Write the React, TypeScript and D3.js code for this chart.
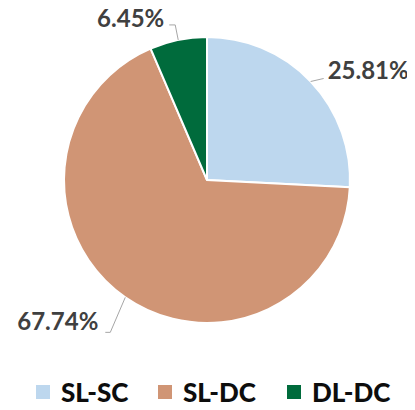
import * as d3 from "d3";

const categories = ["SL-SC", "SL-DC", "DL-DC"];
const values = [25.81, 67.74, 6.45];
const colors = ["#BDD7EE", "#D09575", "#006B3C"];

const W = 415, H = 410;
const CX = 207, CY = 180, R = 143;
const FONT = "Lato, 'Open Sans', sans-serif";

// leader offsets per slice: elbow + end points relative to the slice edge, then text offset
const leader = [
  { pts: [[13, -3], [13, -3]], anchor: "start", tx: 17, ty: -3 },
  { pts: [[-15, 35], [-20, 35]], anchor: "end", tx: -27, ty: 33 },
  { pts: [[-3, -15], [-9, -15]], anchor: "end", tx: -14, ty: -13 },
];

export default function App() {
  const pie = d3.pie<number>().sort(null).value(d => d);
  const arcs = pie(values);
  const arc = d3.arc<d3.PieArcDatum<number>>().innerRadius(0).outerRadius(R);

  const legendX = [36, 158, 287];

  return (
    <div style={{ margin: -8, width: W, height: H, background: "#fff" }}>
      <svg width={W} height={H} style={{ display: "block" }}>
        <g transform={`translate(${CX},${CY})`}>
          {arcs.map((a, i) => (
            <path key={i} d={arc(a) || ""} fill={colors[i]} stroke="#fff" strokeWidth={2} />
          ))}
          {arcs.map((a, i) => {
            const mid = (a.startAngle + a.endAngle) / 2;
            const p = [Math.sin(mid) * R, -Math.cos(mid) * R];
            const L = leader[i];
            const e1 = [p[0] + L.pts[0][0], p[1] + L.pts[0][1]];
            const e2 = [p[0] + L.pts[1][0], p[1] + L.pts[1][1]];
            return (
              <g key={i}>
                <polyline points={`${p[0]},${p[1]} ${e1[0]},${e1[1]} ${e2[0]},${e2[1]}`}
                  fill="none" stroke="#A6A6A6" strokeWidth={1} />
                <text x={p[0] + L.tx} y={p[1] + L.ty} textAnchor={L.anchor as any}
                  fontFamily={FONT} fontWeight={700} fontSize={24} fill="#404040">
                  {values[i].toFixed(2)}%
                </text>
              </g>
            );
          })}
        </g>
        {categories.map((c, i) => (
          <g key={c} transform={`translate(${legendX[i]},0)`}>
            <rect x={0} y={385} width={14} height={14} fill={colors[i]} />
            <text x={25} y={402} fontFamily={FONT} fontWeight={900} fontSize={26} fill="#0d0d0d">{c}</text>
          </g>
        ))}
      </svg>
    </div>
  );
}
